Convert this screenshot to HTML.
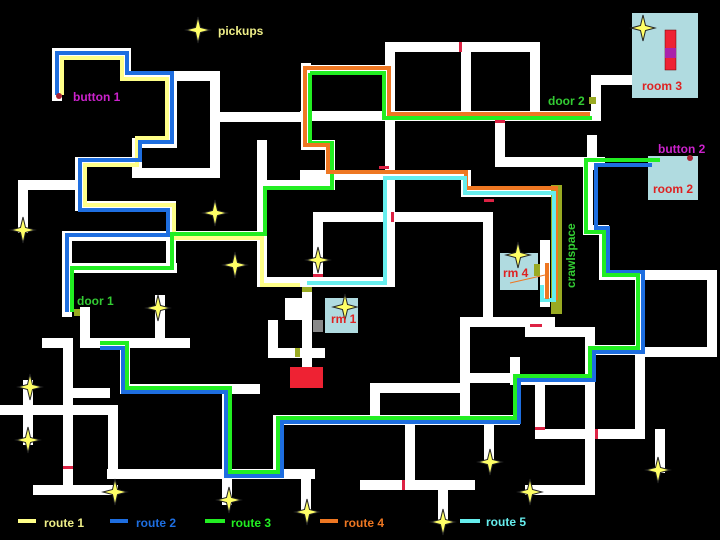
<!DOCTYPE html>
<html><head><meta charset="utf-8"><style>
html,body{margin:0;padding:0;background:#000;}
svg{display:block}
text{font-family:"Liberation Sans",Arial,sans-serif;font-weight:bold;font-size:12px}
</style></head><body>
<svg width="720" height="540" viewBox="0 0 720 540" xmlns="http://www.w3.org/2000/svg">
<rect width="720" height="540" fill="#000"/>
<defs>
<path id="st" d="M0,-13 L2.5,-2.5 L12,0 L2.5,2.5 L0,13 L-2.5,2.5 L-12,0 L-2.5,-2.5 Z" fill="#ffff66" stroke="#222" stroke-width="1"/>
</defs>
<g fill="none" stroke="#fff" stroke-width="10" stroke-linecap="square" stroke-linejoin="miter">
<polyline points="57,96 57,53 126,53 126,76 215,76 215,172"/>
<polyline points="172,76 172,143 137,143 137,173 215,173"/>
<polyline points="137,162 80,162 80,206 171,206 171,268"/>
<polyline points="72,185 23,185 23,228"/>
<polyline points="67,312 67,236 172,236 262,236"/>
<polyline points="67,268 172,268"/>
<polyline points="215,117 305,117"/>
<polyline points="262,145 262,282 390,282 390,47 535,47 535,116"/>
<polyline points="466,47 466,116"/>
<polyline points="305,116 596,116 596,80 632,80"/>
<polyline points="306,68 306,145 330,145 330,185 262,185"/>
<polyline points="306,70 386,70"/>
<polyline points="318,282 318,217"/>
<polyline points="318,217 488,217 488,322"/>
<polyline points="305,175 466,175 466,192 555,192"/>
<polyline points="500,120 500,162 600,162"/>
<polyline points="592,140 592,165"/>
<polyline points="588,162 588,230 604,230 604,275 712,275 712,352 645,352"/>
<polyline points="640,275 640,434 540,434 540,380"/>
<polyline points="660,434 660,468"/>
<polyline points="545,245 545,302"/>
<polyline points="465,322 465,420"/>
<polyline points="375,388 375,410"/>
<polyline points="375,388 465,388"/>
<polyline points="465,322 550,322"/>
<polyline points="530,332 590,332 590,490 530,490"/>
<polyline points="465,378 515,378 515,362"/>
<polyline points="515,380 590,380"/>
<polyline points="590,350 640,350"/>
<polyline points="278,420 515,420"/>
<polyline points="410,420 410,485"/>
<polyline points="365,485 470,485"/>
<polyline points="443,485 443,518"/>
<polyline points="489,420 489,458"/>
<polyline points="85,312 85,343 185,343"/>
<polyline points="160,300 160,343"/>
<polyline points="125,343 125,389 255,389"/>
<polyline points="227,389 227,500"/>
<polyline points="112,474 310,474"/>
<polyline points="278,474 278,420"/>
<polyline points="306,474 306,508"/>
<polyline points="68,343 68,490"/>
<polyline points="47,343 68,343"/>
<polyline points="68,393 105,393"/>
<polyline points="0,410 113,410 113,474"/>
<polyline points="38,490 113,490"/>
<polyline points="28,385 28,440"/>
<polyline points="307,288 307,362"/>
<polyline points="273,325 273,353 320,353"/>
</g>
<rect x="285" y="298" width="20" height="22" fill="#fff"/>
<rect x="325" y="298" width="33" height="35" fill="#b0dbe0"/>
<rect x="500" y="253" width="38" height="37" fill="#b0dbe0"/>
<rect x="648" y="156" width="50" height="44" fill="#b0dbe0"/>
<rect x="632" y="13" width="66" height="85" fill="#b0dbe0"/>
<rect x="665" y="30" width="11" height="40" fill="#ee2233" stroke="#600" stroke-width="0.5"/>
<rect x="665" y="48" width="11" height="10" fill="#aa22aa"/>
<rect x="290" y="367" width="33" height="21" fill="#ee2233"/>
<rect x="313" y="320" width="10" height="12" fill="#888"/>
<rect x="551" y="185" width="11" height="129" fill="#99aa22"/>
<rect x="74" y="309" width="6" height="7" fill="#99aa22"/>
<rect x="589" y="97" width="7" height="7" fill="#99aa22"/>
<rect x="295" y="348" width="5" height="9" fill="#99aa22"/>
<rect x="302" y="287" width="10" height="5" fill="#99aa22"/>
<rect x="534" y="264" width="6" height="12" fill="#99aa22"/>
<g fill="#dd2244">
<rect x="459" y="42" width="3" height="10"/><rect x="495" y="120" width="10" height="3"/>
<rect x="379" y="166" width="10" height="3"/><rect x="484" y="199" width="10" height="3"/>
<rect x="391" y="212" width="3" height="10"/><rect x="313" y="274" width="10" height="3"/>
<rect x="530" y="324" width="12" height="3"/><rect x="535" y="427" width="10" height="3"/>
<rect x="595" y="429" width="3" height="10"/><rect x="402" y="480" width="3" height="10"/>
<rect x="63" y="466" width="10" height="3"/>
</g>
<g fill="none" stroke-width="4" stroke-linejoin="miter">
<polyline stroke="#ffff88" points="62,95 62,58 122,58 122,79 167,79 167,138 137,138 137,165 85,165 85,205 174,205 174,238 262,238 262,285 300,285"/>
<polyline stroke="#1e6ee0" points="57,95 57,53 127,53 127,73 172,73 172,142 140,142 140,160 80,160 80,210 168,210 168,235 67,235 67,312"/>
<polyline stroke="#1e6ee0" points="100,348 123,348 123,392 226,392 226,476 282,476 282,422 519,422 519,380 594,380 594,352 643,352 643,272 608,272 608,228 596,228 596,165 652,165"/>
<polyline stroke="#22ee22" points="310,73 384,73 384,118 592,118"/>
<polyline stroke="#22ee22" points="310,73 310,143 332,143 332,188 265,188 265,234 172,234 172,268 72,268 72,312"/>
<polyline stroke="#22ee22" points="100,343 127,343 127,388 230,388 230,472 278,472 278,418 515,418 515,376 590,376 590,348 638,348 638,275 604,275 604,232 586,232 586,160 660,160"/>
<polyline stroke="#ee7722" points="590,114 389,114 389,68 305,68 305,145 328,145 328,172 466,172 466,188 556,188 556,300"/>
<polyline stroke="#66eeee" points="307,283 385,283 385,178 465,178 465,193 554,193 554,300 542,300 542,285"/>
</g>
<rect x="545" y="263" width="4" height="36" fill="#ee7722"/>
<line x1="510" y1="283" x2="545" y2="275" stroke="#ee7722" stroke-width="1"/>
<circle cx="59" cy="96" r="3" fill="#aa2233"/>
<circle cx="690" cy="158" r="3" fill="#aa2233"/>
<g>
<use href="#st" x="198" y="30"/><use href="#st" x="23" y="230"/><use href="#st" x="215" y="213"/>
<use href="#st" x="235" y="265"/><use href="#st" x="318" y="260"/><use href="#st" x="158" y="308"/>
<use href="#st" x="345" y="307"/><use href="#st" x="30" y="387"/><use href="#st" x="28" y="440"/>
<use href="#st" x="115" y="492"/><use href="#st" x="229" y="500"/><use href="#st" x="307" y="512"/>
<use href="#st" x="443" y="522"/><use href="#st" x="490" y="462"/><use href="#st" x="530" y="492"/>
<use href="#st" x="658" y="470"/><use href="#st" x="518" y="255"/><use href="#st" x="643" y="28"/>
</g>
<text x="218" y="35" fill="#eeee88">pickups</text>
<text x="73" y="101" fill="#cc22cc">button 1</text>
<text x="77" y="305" fill="#33cc33">door 1</text>
<text x="548" y="105" fill="#33cc33">door 2</text>
<text x="642" y="90" fill="#dd2222">room 3</text>
<text x="658" y="153" fill="#cc22cc">button 2</text>
<text x="653" y="193" fill="#dd2222">room 2</text>
<text x="503" y="277" fill="#dd2222">rm 4</text>
<text x="331" y="323" fill="#dd2222">rm 1</text>
<text transform="translate(575,288) rotate(-90)" fill="#33cc33">crawlspace</text>
<rect x="18" y="519" width="18" height="4" fill="#ffff88"/><text x="44" y="527" fill="#eeee88">route 1</text>
<rect x="110" y="519" width="18" height="4" fill="#1e6ee0"/><text x="136" y="527" fill="#1e6ee0">route 2</text>
<rect x="205" y="519" width="20" height="4" fill="#22ee22"/><text x="231" y="527" fill="#22ee22">route 3</text>
<rect x="320" y="519" width="18" height="4" fill="#ee7722"/><text x="344" y="527" fill="#ee7722">route 4</text>
<rect x="460" y="519" width="20" height="4" fill="#66eeee"/><text x="486" y="526" fill="#66eeee">route 5</text>
</svg>
</body></html>
